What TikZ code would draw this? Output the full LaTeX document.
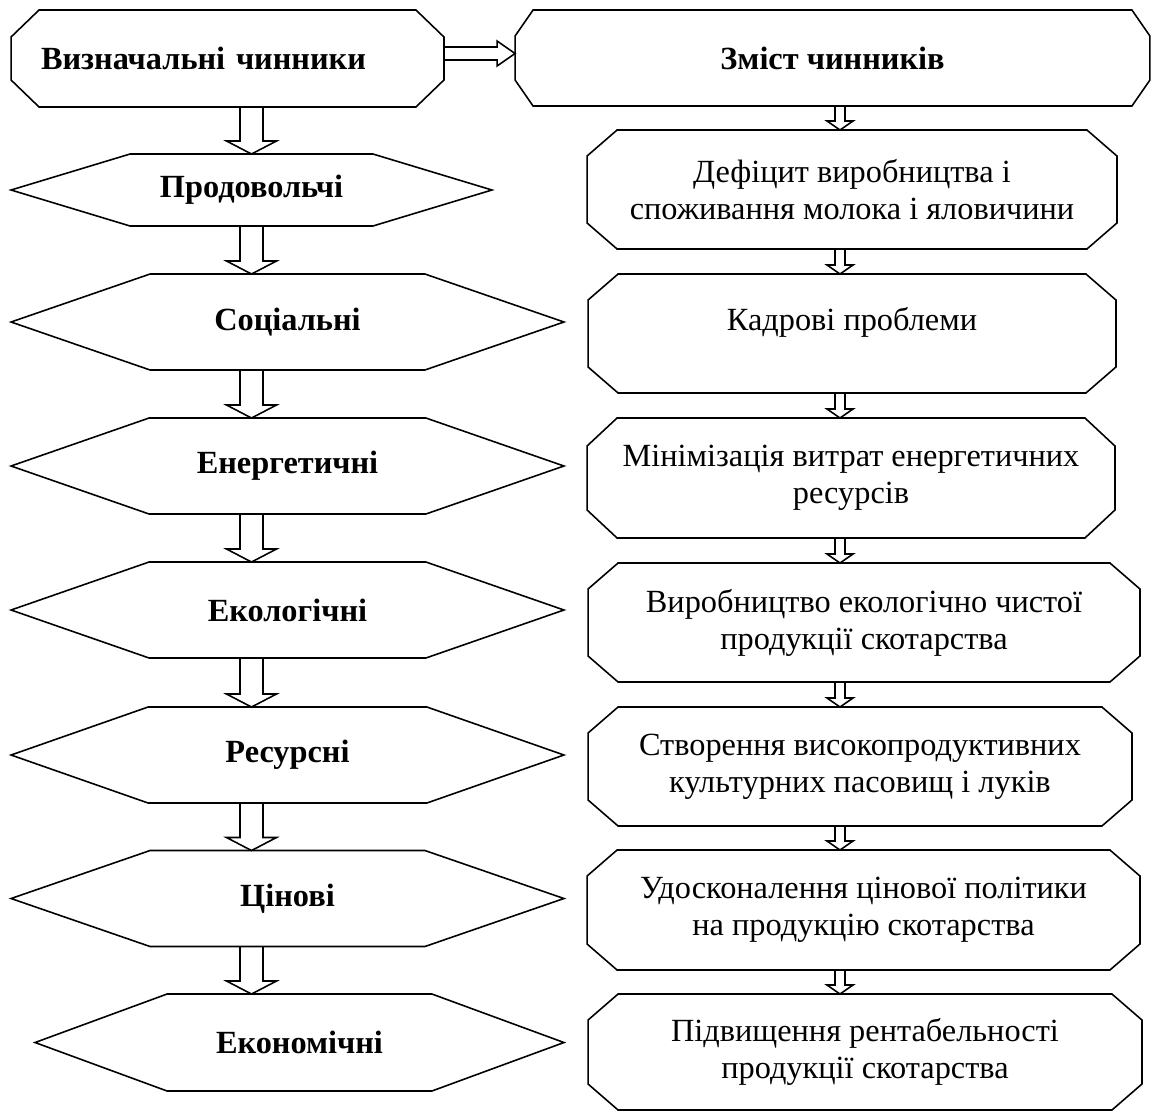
\documentclass[tikz,border=0pt]{standalone}
\usepackage{fontspec}
\setmainfont{Liberation Serif}
\usetikzlibrary{calc}

\begin{document}
\begin{tikzpicture}[x=0.02cm, y=-0.02cm, line width=0.9pt,
    every node/.style={inner sep=0pt, outer sep=0pt, font=\fontsize{18.4}{21}\selectfont},
    factor/.style={font=\fontsize{18.4}{21}\selectfont\bfseries, minimum height=1.92cm},
    content/.style={align=center, minimum height=2.38cm}]
        % Riquadro della pagina
        \useasboundingbox (0,0) rectangle (1156,1113);

        % Assi delle frecce verticali
        \coordinate (lax) at (251.5,0);
        \coordinate (rax) at (840,0);

        % Intestazioni
        \node[factor, minimum height=1.94cm, text width=7.46cm, align=left, inner xsep=0.6cm]
            (vyznach) at (227.5,58.5) {Визначальні чинники};
        \node[factor, minimum width=12.7cm] (zmist) at (832.5,58) {Зміст чинників};

        % Chinnyky (colonna sinistra)
        \node[factor, minimum width=9.62cm, minimum height=1.44cm] (prodov) at (251.5,190) {Продовольчі};
        \node[factor, minimum width=11.06cm] (sotsial) at (287.5,322) {Соціальні};
        \node[factor, minimum width=11.06cm] (energ) at (287.5,466) {Енергетичні};
        \node[factor, minimum width=11.06cm] (ekol) at (287.5,610) {Екологічні};
        \node[factor, minimum width=11.06cm] (resurs) at (287.5,755) {Ресурсні};
        \node[factor, minimum width=11.06cm] (tsinov) at (287.5,898.5) {Цінові};
        \node[factor, minimum width=10.58cm, minimum height=1.94cm] (ekonom) at (299.5,1042.5) {Економічні};

        % Zmist (colonna destra)
        \node[content, minimum width=10.6cm] (defitsyt) at (852,189.5)
            {Дефіцит виробництва і\\споживання молока і яловичини};
        \node[content, minimum width=10.56cm, text depth=0.6cm] (kadry) at (852,333.5)
            {Кадрові проблеми};
        \node[content, minimum width=10.56cm, minimum height=2.4cm] (minim) at (851,478)
            {Мінімізація витрат енергетичних\\ресурсів};
        \node[content, minimum width=11.04cm] (vyrob) at (864,622.5)
            {Виробництво екологічно чистої\\продукції скотарства};
        \node[content, minimum width=10.88cm] (stvor) at (860,766.5)
            {Створення високопродуктивних\\культурних пасовищ і луків};
        \node[content, minimum width=11.06cm, minimum height=2.4cm] (udosk) at (863.5,910)
            {Удосконалення цінової політики\\на продукцію скотарства};
        \node[content, minimum width=11.08cm, minimum height=2.32cm] (pidv) at (865,1052)
            {Підвищення рентабельності\\продукції скотарства};

        % Contorni esagonali
        \foreach \n/\t in {prodov/119, sotsial/139, energ/138, ekol/138, resurs/137, tsinov/139, ekonom/132} {
            \draw (\n.west) -- ($(\n.north west)+(\t,0)$) -- ($(\n.north east)+(-\t,0)$) -- (\n.east)
                -- ($(\n.south east)+(-\t,0)$) -- ($(\n.south west)+(\t,0)$) -- cycle;
        }

        % Contorni ottagonali
        \foreach \n/\hx/\vy in {vyznach/28/27, zmist/18/26, defitsyt/30/26, kadry/30/26, minim/30/28,
                                vyrob/30/26, stvor/30/26, udosk/30/26, pidv/30/26} {
            \draw ($(\n.north west)+(\hx,0)$) -- ($(\n.north east)+(-\hx,0)$) -- ($(\n.north east)+(0,\vy)$)
                -- ($(\n.south east)+(0,-\vy)$) -- ($(\n.south east)+(-\hx,0)$) -- ($(\n.south west)+(\hx,0)$)
                -- ($(\n.south west)+(0,-\vy)$) -- ($(\n.north west)+(0,\vy)$) -- cycle;
        }

        % Freccia orizzontale
        \draw let \p1=(vyznach.east), \p2=(zmist.west) in
            (\x1,\y1+0.23cm) -- (\x2-0.36cm,\y1+0.23cm) -- (\x2-0.36cm,\y1+0.35cm) -- (\x2,\y1+0.1cm)
            -- (\x2-0.36cm,\y1-0.15cm) -- (\x2-0.36cm,\y1-0.03cm) -- (\x1,\y1-0.03cm);

        % Frecce a sinistra
        \foreach \a/\b in {vyznach/prodov, prodov/sotsial, sotsial/energ, energ/ekol, ekol/resurs, resurs/tsinov, tsinov/ekonom} {
            \draw let \p1=(\a.south -| lax), \p2=(\b.north -| lax) in
                (\x1-0.23cm,\y1) -- (\x1-0.23cm,\y2+0.26cm) -- (\x1-0.5cm,\y2+0.26cm) -- (\x2,\y2)
                -- (\x1+0.5cm,\y2+0.26cm) -- (\x1+0.23cm,\y2+0.26cm) -- (\x1+0.23cm,\y1);
        }

        % Frecce a destra
        \foreach \a/\b in {zmist/defitsyt, defitsyt/kadry, kadry/minim, minim/vyrob, vyrob/stvor, stvor/udosk, udosk/pidv} {
            \draw let \p1=(\a.south -| rax), \p2=(\b.north -| rax) in
                (\x1-0.1cm,\y1) -- (\x1-0.1cm,\y2+0.18cm) -- (\x1-0.26cm,\y2+0.18cm) -- (\x2,\y2)
                -- (\x1+0.26cm,\y2+0.18cm) -- (\x1+0.1cm,\y2+0.18cm) -- (\x1+0.1cm,\y1);
        }

    \end{tikzpicture}
\end{document}
